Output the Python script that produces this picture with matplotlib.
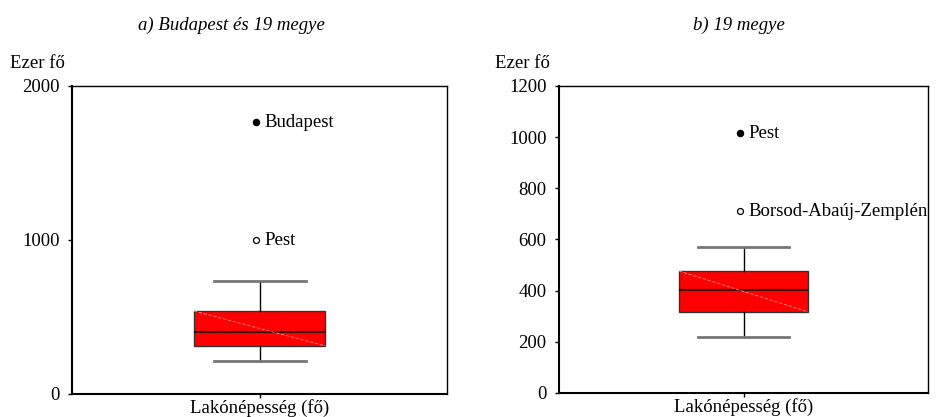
import matplotlib.pyplot as plt

plt.rcParams['font.family'] = ['Liberation Serif', 'DejaVu Serif']
plt.rcParams['font.size'] = 13.5

# a) Budapest + 19 counties, thousand persons
a_stats = dict(whislo=214, q1=312, med=403, q3=539, whishi=734)
a_out_names = ['Budapest', 'Pest']
a_out_vals = [1766, 998]
a_out_extreme = [True, False]
a_ticks = [0, 1000, 2000]
a_ylim = (0, 2000)

# b) 19 counties
b_stats = dict(whislo=219, q1=317, med=403, q3=477, whishi=571)
b_out_names = ['Pest', 'Borsod-Abaúj-Zemplén']
b_out_vals = [1016, 711]
b_out_extreme = [True, False]
b_ticks = [0, 200, 400, 600, 800, 1000, 1200]
b_ylim = (0, 1200)

xlabel = 'Lakónépesség (fő)'
ylabel = 'Ezer fő'

fig = plt.figure(figsize=(9.43, 4.17), dpi=100)
ax_a = fig.add_axes([0.0764, 0.0552, 0.398, 0.7386])
ax_b = fig.add_axes([0.5928, 0.0576, 0.3913, 0.7362])

W = 0.7


def draw(ax, st, names, vals, extreme, ticks, ylim):
    ax.bxp([dict(st, fliers=[])], positions=[1], widths=W, capwidths=0.49,
           patch_artist=True, showfliers=False,
           boxprops=dict(facecolor='#ff0000', edgecolor='#333333', lw=1),
           medianprops=dict(color='#3a0000', lw=1.5),
           whiskerprops=dict(color='black', lw=1),
           capprops=dict(color='#777777', lw=2))
    # faint diagonal across the box
    ax.plot([1 - W / 2, 1 + W / 2], [st['q3'], st['q1']], color='#ff9090',
            lw=0.6, ls=(0, (4, 2)), zorder=5)
    for n, v, e in zip(names, vals, extreme):
        ax.plot(0.98, v, 'o', ms=4.5 if e else 4.3, mec='black', mew=0.9,
                mfc='black' if e else 'white', zorder=6)
        ax.text(1.025, v, n, va='center', ha='left', zorder=6)
    ax.set_xlim(0, 2)
    ax.set_ylim(*ylim)
    ax.set_yticks(ticks)
    ax.set_xticks([1])
    ax.set_xticklabels([xlabel])
    ax.tick_params(axis='both', length=3, width=1, direction='out')
    ax.tick_params(axis='x', pad=0.5)
    ax.tick_params(axis='y', pad=6)
    for s in ['left', 'bottom']:
        ax.spines[s].set_linewidth(1.5)
    for s in ['top', 'right']:
        ax.spines[s].set_linewidth(1)


draw(ax_a, a_stats, a_out_names, a_out_vals, a_out_extreme, a_ticks, a_ylim)
draw(ax_b, b_stats, b_out_names, b_out_vals, b_out_extreme, b_ticks, b_ylim)

fig.text(231 / 943, 1 - 25 / 417, 'a) Budapest és 19 megye', style='italic',
         ha='center', va='center')
fig.text(739 / 943, 1 - 25 / 417, 'b) 19 megye', style='italic',
         ha='center', va='center')
fig.text(10 / 943, 1 - 63 / 417, ylabel, ha='left', va='center')
fig.text(495 / 943, 1 - 63 / 417, ylabel, ha='left', va='center')

fig.savefig('out.png', dpi=100)
